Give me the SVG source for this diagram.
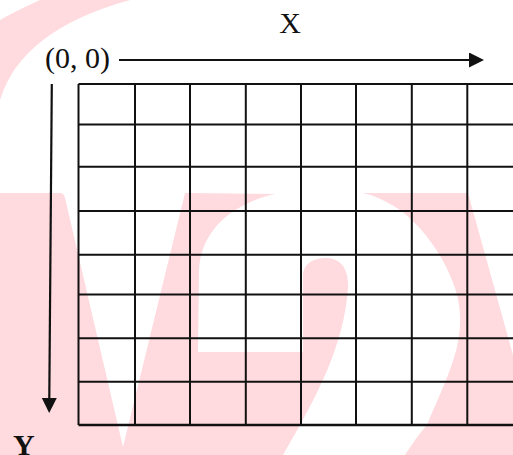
<svg xmlns="http://www.w3.org/2000/svg" width="513" height="455" viewBox="0 0 513 455">
  <defs>
    <style>
      .wm { fill: #ffdade; stroke: none; }
      .grid line { stroke: #111; stroke-width: 2; }
      .axis { stroke: #111; stroke-width: 2.2; fill: none; }
      .lbl { font-family: "Liberation Serif", "Times New Roman", serif; font-size: 30px; fill: #111; }
    </style>
    <marker id="head" markerUnits="userSpaceOnUse" markerWidth="16" markerHeight="16" refX="0" refY="7.5" orient="auto">
      <path d="M0,0 L15,7.5 L0,15 Z" fill="#111"/>
    </marker>
  </defs>
  <rect width="513" height="455" fill="#ffffff"/>

  <g id="watermark">
    <path class="wm" d="M40,0 L130,0 Q21,30 0,100 L0,20 Q18,10 40,0 Z"/>
    <path class="wm" d="M0,193 L60,193 Q64,193 65,198 L123,447 L185,193 L275,194 C235,203 201,228 199,270 L198,352 L303,352 L303,276 C303,264 313,258 326,258 C340,258 349,268 348,288 C344,345 318,395 283,455 L0,455 Z"/>
    <path class="wm" d="M363,193 L468,193 L513,355 L513,455 L405,455 C415,440 422,430 427,425 C437,400 450,375 457,347 C463,320 460,300 452,280 C440,250 420,225 400,210 C385,200 372,195 363,193 Z"/>
  </g>

  <g id="grid" class="grid">
    <line x1="78.5" y1="84" x2="513" y2="84"/>
    <line x1="78.5" y1="124.5" x2="513" y2="124.5"/>
    <line x1="78.5" y1="166.7" x2="513" y2="166.7"/>
    <line x1="78.5" y1="211" x2="513" y2="211"/>
    <line x1="78.5" y1="254.8" x2="513" y2="254.8"/>
    <line x1="78.5" y1="294.5" x2="513" y2="294.5"/>
    <line x1="78.5" y1="338.3" x2="513" y2="338.3"/>
    <line x1="78.5" y1="381.7" x2="513" y2="381.7"/>
    <line x1="78.5" y1="425" x2="513" y2="425" style="stroke-width:2.6"/>
    <line x1="78.5" y1="84" x2="78.5" y2="425"/>
    <line x1="135" y1="84" x2="135" y2="425"/>
    <line x1="190" y1="84" x2="190" y2="425"/>
    <line x1="245.8" y1="84" x2="245.8" y2="425"/>
    <line x1="301" y1="84" x2="301" y2="425"/>
    <line x1="356" y1="84" x2="356" y2="425"/>
    <line x1="411.8" y1="84" x2="411.8" y2="425"/>
    <line x1="467.3" y1="84" x2="467.3" y2="425"/>
  </g>

  <g id="connectors">
    <line id="x-axis" class="axis" x1="119" y1="60" x2="469" y2="60" marker-end="url(#head)"/>
    <line id="y-axis" class="axis" x1="51.8" y1="84" x2="49.3" y2="398" marker-end="url(#head)"/>
  </g>

  <g id="label-x"><text class="lbl" x="290" y="33" text-anchor="middle">X</text></g>
  <g id="label-origin"><text class="lbl" x="45" y="68">(0, 0)</text></g>
  <g id="label-y"><text class="lbl" x="13" y="455" font-weight="bold">Y</text></g>
</svg>
